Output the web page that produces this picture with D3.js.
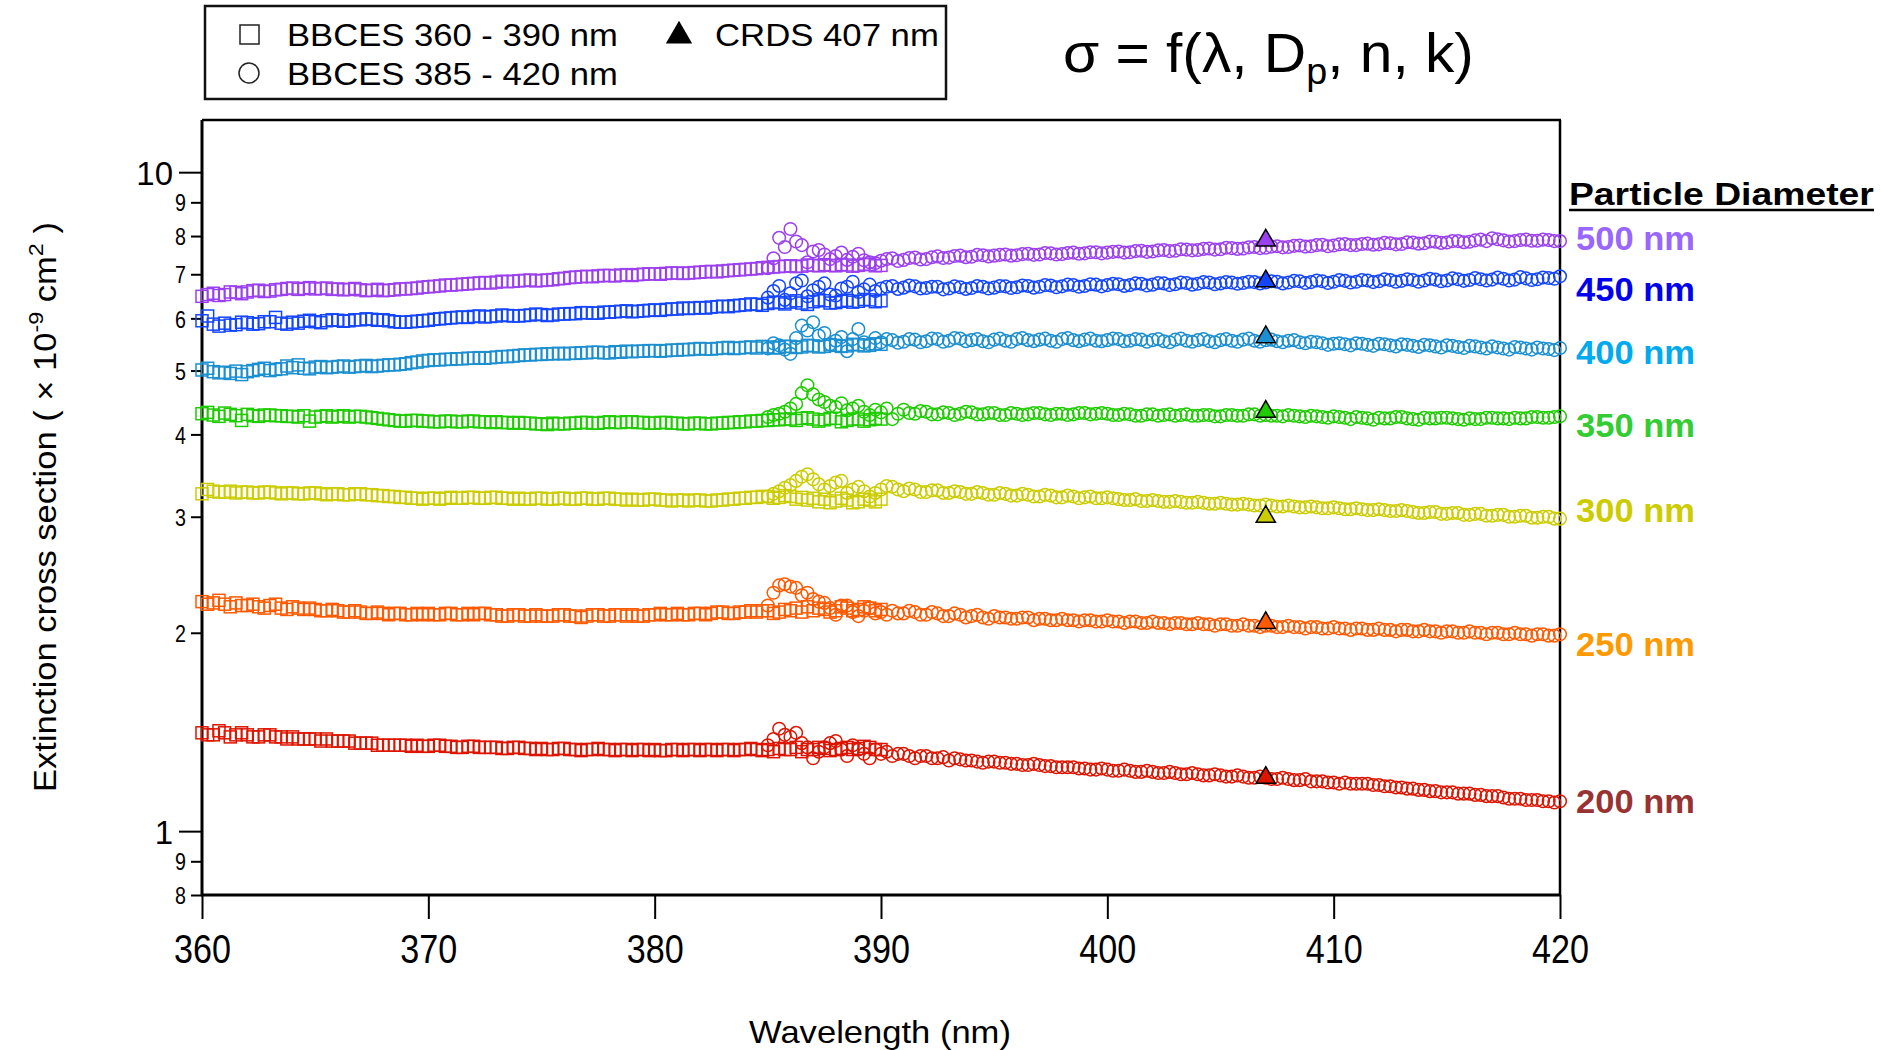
<!DOCTYPE html>
<html>
<head>
<meta charset="utf-8">
<script src="https://cdn.jsdelivr.net/npm/d3@7"></script>
<style>
  body { margin: 0; background: #fff; }
  svg text { font-family: Arial, "Liberation Sans", Helvetica, sans-serif; }
</style>
</head>
<body>
<svg id="chart" width="1881" height="1050"></svg>
<script>
// ---- data (extinction cross section, x 1e-9 cm^2) ----
const sizes = ["500 nm", "450 nm", "400 nm", "350 nm", "300 nm", "250 nm", "200 nm"];
const markColors = ["#9b3ff0", "#1446ff", "#1b8fd0", "#1ecc00", "#cccc00", "#ff5a00", "#dd1500"];
const labelColors = ["#9966ff", "#0000ee", "#00aaee", "#33cc33", "#cccc00", "#ff9900", "#993333"];

// wavelength grids of the two BBCES channels (nm), 0.25 nm steps
const sqWl = d3.range(360, 390.001, 0.25);
const ciWl = d3.range(385, 420.001, 0.25);
const crdsWl = 407;
const crds407 = [7.88, 6.83, 5.62, 4.33, 3.00, 2.07, 1.205];

// each row = 2 nm
const sq500 = [6.48,6.52,6.55,6.50,6.52,6.58,6.57,6.54,
  6.58,6.61,6.62,6.59,6.60,6.63,6.64,6.66,
  6.67,6.64,6.66,6.68,6.65,6.66,6.67,6.64,
  6.65,6.63,6.64,6.66,6.63,6.61,6.62,6.64,
  6.61,6.62,6.63,6.65,6.65,6.66,6.67,6.69,
  6.70,6.71,6.72,6.74,6.74,6.75,6.76,6.77,
  6.78,6.79,6.80,6.79,6.81,6.83,6.82,6.83,
  6.84,6.85,6.86,6.84,6.85,6.86,6.87,6.89,
  6.90,6.92,6.93,6.94,6.95,6.94,6.96,6.97,
  6.97,6.96,6.98,6.99,6.97,6.99,7.00,7.01,
  7.01,7.00,7.02,7.03,7.03,7.02,7.03,7.04,
  7.05,7.06,7.07,7.06,7.08,7.09,7.10,7.11,
  7.12,7.13,7.14,7.16,7.17,7.18,7.19,7.20,
  7.21,7.19,7.20,7.23,7.22,7.21,7.24,7.22,
  7.21,7.24,7.23,7.20,7.22,7.25,7.24,7.21,
  7.22];
const ci500 = [7.15,7.40,7.95,7.70,8.20,7.85,7.75,7.30,
  7.58,7.62,7.50,7.38,7.46,7.55,7.36,7.44,
  7.52,7.35,7.30,7.28,7.34,7.38,7.40,7.33,
  7.36,7.41,7.42,7.37,7.38,7.43,7.45,7.41,
  7.42,7.46,7.47,7.43,7.44,7.49,7.48,7.45,
  7.47,7.49,7.50,7.47,7.48,7.51,7.52,7.49,
  7.50,7.54,7.53,7.50,7.51,7.54,7.55,7.52,
  7.53,7.56,7.56,7.53,7.55,7.57,7.58,7.55,
  7.56,7.59,7.60,7.57,7.58,7.61,7.62,7.59,
  7.60,7.64,7.63,7.61,7.62,7.65,7.66,7.63,
  7.64,7.68,7.67,7.65,7.66,7.69,7.70,7.67,
  7.68,7.71,7.72,7.69,7.70,7.73,7.74,7.71,
  7.72,7.75,7.76,7.72,7.74,7.77,7.78,7.75,
  7.75,7.78,7.79,7.76,7.77,7.81,7.80,7.77,
  7.78,7.83,7.82,7.79,7.80,7.85,7.84,7.81,
  7.82,7.86,7.86,7.83,7.84,7.88,7.90,7.86,
  7.94,7.91,7.88,7.85,7.86,7.89,7.90,7.87,
  7.87,7.90,7.89,7.86,7.86];
const sq450 = [5.95,6.05,5.88,5.84,5.90,5.86,5.87,5.92,
  5.91,5.88,5.89,5.93,5.93,6.02,5.90,5.88,
  5.92,5.90,5.94,5.96,5.93,5.91,5.95,5.97,
  5.96,5.94,5.95,5.97,5.97,5.99,5.98,5.96,
  5.97,5.95,5.93,5.92,5.92,5.93,5.94,5.95,
  5.96,5.98,5.99,6.00,6.01,6.02,6.03,6.02,
  6.04,6.05,6.03,6.04,6.05,6.07,6.06,6.05,
  6.05,6.06,6.07,6.09,6.08,6.06,6.07,6.09,
  6.09,6.10,6.10,6.12,6.12,6.11,6.11,6.13,
  6.13,6.14,6.15,6.16,6.14,6.15,6.16,6.17,
  6.18,6.17,6.19,6.20,6.20,6.22,6.21,6.22,
  6.23,6.22,6.24,6.25,6.26,6.25,6.27,6.28,
  6.29,6.31,6.30,6.28,6.32,6.35,6.34,6.31,
  6.35,6.38,6.33,6.30,6.36,6.40,6.38,6.33,
  6.34,6.37,6.39,6.35,6.37,6.41,6.40,6.36,
  6.38];
const ci450 = [6.45,6.60,6.72,6.40,6.55,6.78,6.85,6.48,
  6.62,6.70,6.78,6.52,6.50,6.66,6.70,6.82,
  6.58,6.64,6.75,6.60,6.66,6.70,6.72,6.65,
  6.68,6.73,6.71,6.66,6.67,6.70,6.70,6.64,
  6.66,6.71,6.69,6.65,6.67,6.72,6.70,6.66,
  6.68,6.72,6.71,6.67,6.69,6.73,6.72,6.68,
  6.70,6.74,6.73,6.69,6.71,6.75,6.74,6.70,
  6.72,6.76,6.75,6.71,6.74,6.77,6.76,6.72,
  6.74,6.78,6.77,6.73,6.75,6.79,6.78,6.74,
  6.76,6.80,6.79,6.75,6.77,6.81,6.80,6.76,
  6.78,6.81,6.80,6.77,6.79,6.82,6.81,6.78,
  6.80,6.83,6.82,6.78,6.80,6.84,6.83,6.79,
  6.81,6.85,6.83,6.79,6.82,6.86,6.84,6.80,
  6.82,6.86,6.85,6.81,6.83,6.88,6.86,6.82,
  6.84,6.88,6.86,6.82,6.85,6.89,6.87,6.83,
  6.85,6.90,6.88,6.84,6.86,6.91,6.88,6.85,
  6.87,6.92,6.89,6.85,6.87,6.93,6.90,6.86,
  6.88,6.92,6.91,6.89,6.95];
const sq400 = [5.01,5.04,4.98,4.96,4.97,4.95,4.99,4.93,
  4.98,5.00,5.02,5.04,5.00,5.02,5.03,5.08,
  5.05,5.10,5.04,5.03,5.06,5.07,5.05,5.06,
  5.07,5.08,5.06,5.07,5.08,5.09,5.07,5.08,
  5.09,5.10,5.10,5.11,5.12,5.14,5.15,5.17,
  5.18,5.19,5.19,5.20,5.20,5.21,5.21,5.22,
  5.22,5.23,5.22,5.23,5.24,5.25,5.25,5.26,
  5.27,5.28,5.28,5.29,5.29,5.30,5.30,5.31,
  5.30,5.31,5.31,5.32,5.32,5.33,5.33,5.32,
  5.32,5.34,5.33,5.35,5.34,5.35,5.35,5.36,
  5.36,5.35,5.36,5.37,5.37,5.38,5.38,5.39,
  5.40,5.39,5.39,5.40,5.41,5.42,5.40,5.41,
  5.42,5.43,5.41,5.44,5.43,5.41,5.42,5.44,
  5.44,5.42,5.43,5.46,5.45,5.43,5.44,5.47,
  5.46,5.44,5.45,5.48,5.47,5.45,5.46,5.49,
  5.48];
const ci400 = [5.40,5.50,5.46,5.38,5.30,5.60,5.85,5.75,
  5.92,5.65,5.70,5.48,5.55,5.62,5.35,5.58,
  5.78,5.52,5.48,5.60,5.52,5.58,5.56,5.51,
  5.53,5.58,5.57,5.52,5.54,5.59,5.58,5.53,
  5.55,5.60,5.59,5.54,5.56,5.58,5.54,5.52,
  5.57,5.59,5.55,5.53,5.58,5.60,5.56,5.54,
  5.57,5.59,5.55,5.53,5.58,5.60,5.56,5.54,
  5.57,5.59,5.55,5.54,5.56,5.59,5.58,5.54,
  5.55,5.58,5.57,5.53,5.56,5.58,5.54,5.52,
  5.57,5.59,5.55,5.53,5.56,5.58,5.54,5.52,
  5.56,5.58,5.55,5.53,5.57,5.59,5.55,5.53,
  5.56,5.57,5.54,5.52,5.55,5.56,5.52,5.50,
  5.53,5.52,5.50,5.47,5.49,5.50,5.48,5.46,
  5.50,5.49,5.47,5.45,5.49,5.48,5.46,5.44,
  5.48,5.47,5.45,5.43,5.47,5.46,5.44,5.42,
  5.46,5.45,5.43,5.41,5.45,5.44,5.42,5.40,
  5.44,5.42,5.40,5.38,5.43,5.42,5.40,5.38,
  5.42,5.40,5.39,5.37,5.41];
const sq350 = [4.30,4.32,4.28,4.26,4.31,4.29,4.27,4.20,
  4.29,4.27,4.26,4.28,4.28,4.27,4.27,4.26,
  4.26,4.25,4.27,4.19,4.25,4.26,4.27,4.25,
  4.26,4.27,4.25,4.26,4.26,4.25,4.24,4.23,
  4.22,4.21,4.20,4.19,4.19,4.20,4.20,4.19,
  4.19,4.18,4.18,4.19,4.19,4.18,4.18,4.19,
  4.19,4.18,4.18,4.17,4.18,4.17,4.17,4.16,
  4.17,4.16,4.16,4.15,4.15,4.14,4.16,4.15,
  4.15,4.16,4.16,4.17,4.17,4.16,4.16,4.17,
  4.18,4.17,4.17,4.18,4.18,4.17,4.17,4.16,
  4.16,4.17,4.17,4.16,4.16,4.15,4.15,4.16,
  4.16,4.15,4.15,4.16,4.16,4.17,4.17,4.18,
  4.18,4.19,4.19,4.20,4.20,4.21,4.21,4.22,
  4.22,4.20,4.23,4.24,4.22,4.19,4.21,4.23,
  4.23,4.18,4.20,4.22,4.22,4.19,4.21,4.23,
  4.22];
const ci350 = [4.25,4.28,4.30,4.33,4.38,4.45,4.62,4.75,
  4.60,4.52,4.48,4.42,4.40,4.46,4.35,4.38,
  4.42,4.33,4.28,4.36,4.32,4.38,4.22,4.30,
  4.36,4.31,4.30,4.34,4.33,4.29,4.29,4.32,
  4.31,4.28,4.30,4.33,4.32,4.29,4.29,4.31,
  4.31,4.28,4.28,4.31,4.30,4.28,4.29,4.31,
  4.31,4.29,4.28,4.30,4.30,4.28,4.29,4.31,
  4.31,4.29,4.30,4.31,4.30,4.28,4.28,4.30,
  4.29,4.27,4.27,4.29,4.29,4.27,4.28,4.29,
  4.27,4.28,4.29,4.27,4.27,4.28,4.28,4.26,
  4.26,4.28,4.28,4.27,4.27,4.29,4.29,4.27,
  4.28,4.27,4.27,4.26,4.28,4.27,4.26,4.25,
  4.27,4.26,4.25,4.24,4.26,4.25,4.24,4.22,
  4.25,4.24,4.23,4.21,4.24,4.23,4.23,4.25,
  4.25,4.23,4.22,4.21,4.24,4.23,4.23,4.24,
  4.24,4.23,4.22,4.21,4.23,4.22,4.22,4.24,
  4.24,4.23,4.23,4.22,4.24,4.23,4.23,4.25,
  4.25,4.24,4.24,4.25,4.26];
const sq300 = [3.25,3.30,3.28,3.27,3.27,3.28,3.26,3.27,
  3.27,3.26,3.26,3.27,3.27,3.26,3.25,3.26,
  3.26,3.25,3.25,3.26,3.26,3.25,3.24,3.25,
  3.25,3.24,3.24,3.25,3.25,3.24,3.24,3.23,
  3.23,3.22,3.22,3.21,3.21,3.20,3.20,3.19,
  3.20,3.20,3.19,3.20,3.21,3.20,3.20,3.21,
  3.21,3.20,3.20,3.21,3.21,3.20,3.20,3.19,
  3.20,3.19,3.19,3.20,3.20,3.19,3.19,3.20,
  3.20,3.19,3.19,3.20,3.20,3.19,3.19,3.20,
  3.20,3.19,3.19,3.18,3.19,3.18,3.18,3.19,
  3.19,3.18,3.18,3.17,3.18,3.18,3.17,3.18,
  3.18,3.17,3.17,3.18,3.18,3.19,3.19,3.20,
  3.20,3.21,3.21,3.22,3.22,3.20,3.21,3.23,
  3.22,3.19,3.21,3.18,3.20,3.16,3.19,3.15,
  3.17,3.20,3.18,3.15,3.16,3.19,3.18,3.16,
  3.19];
const ci300 = [3.22,3.25,3.28,3.32,3.35,3.40,3.45,3.48,
  3.42,3.36,3.30,3.34,3.38,3.40,3.26,3.30,
  3.33,3.28,3.22,3.26,3.30,3.34,3.33,3.30,
  3.28,3.31,3.30,3.27,3.27,3.29,3.29,3.26,
  3.26,3.28,3.27,3.25,3.25,3.27,3.26,3.24,
  3.24,3.26,3.25,3.23,3.23,3.25,3.24,3.22,
  3.22,3.24,3.23,3.21,3.21,3.23,3.22,3.20,
  3.21,3.22,3.20,3.20,3.21,3.20,3.19,3.18,
  3.18,3.19,3.17,3.17,3.18,3.17,3.16,3.16,
  3.17,3.16,3.15,3.15,3.16,3.15,3.14,3.14,
  3.15,3.14,3.13,3.13,3.14,3.13,3.12,3.12,
  3.13,3.12,3.11,3.11,3.12,3.11,3.10,3.10,
  3.11,3.10,3.09,3.09,3.10,3.09,3.08,3.08,
  3.09,3.08,3.07,3.07,3.08,3.07,3.06,3.06,
  3.07,3.06,3.05,3.04,3.04,3.05,3.05,3.03,
  3.03,3.04,3.04,3.02,3.02,3.03,3.03,3.01,
  3.01,3.02,3.02,3.00,3.00,3.01,3.01,2.99,
  2.99,3.00,3.00,2.98,2.98];
const sq250 = [2.23,2.21,2.22,2.24,2.21,2.19,2.22,2.20,
  2.20,2.21,2.19,2.18,2.20,2.21,2.18,2.17,
  2.19,2.18,2.17,2.18,2.17,2.16,2.16,2.17,
  2.16,2.15,2.15,2.16,2.15,2.14,2.14,2.15,
  2.14,2.13,2.14,2.14,2.13,2.13,2.14,2.13,
  2.14,2.13,2.13,2.14,2.14,2.13,2.13,2.14,
  2.13,2.14,2.14,2.13,2.13,2.12,2.12,2.13,
  2.13,2.12,2.12,2.13,2.12,2.12,2.12,2.13,
  2.13,2.12,2.12,2.11,2.12,2.13,2.13,2.12,
  2.12,2.13,2.13,2.12,2.13,2.12,2.12,2.13,
  2.13,2.14,2.13,2.13,2.14,2.13,2.13,2.14,
  2.14,2.13,2.14,2.15,2.15,2.14,2.14,2.15,
  2.15,2.16,2.15,2.16,2.16,2.14,2.15,2.17,
  2.16,2.18,2.15,2.19,2.16,2.18,2.17,2.15,
  2.16,2.19,2.18,2.16,2.17,2.19,2.18,2.16,
  2.17];
const ci250 = [2.20,2.30,2.36,2.37,2.35,2.34,2.28,2.30,
  2.25,2.23,2.22,2.18,2.13,2.20,2.20,2.15,
  2.12,2.16,2.18,2.14,2.15,2.13,2.16,2.14,
  2.14,2.16,2.15,2.13,2.13,2.15,2.14,2.12,
  2.12,2.14,2.13,2.11,2.12,2.13,2.11,2.10,
  2.12,2.11,2.11,2.10,2.10,2.11,2.11,2.09,
  2.10,2.10,2.09,2.09,2.10,2.09,2.09,2.08,
  2.09,2.09,2.08,2.08,2.09,2.08,2.08,2.07,
  2.08,2.08,2.07,2.07,2.08,2.07,2.07,2.06,
  2.07,2.07,2.06,2.06,2.07,2.06,2.06,2.05,
  2.06,2.06,2.05,2.05,2.06,2.05,2.05,2.04,
  2.05,2.05,2.04,2.04,2.05,2.04,2.04,2.03,
  2.04,2.04,2.03,2.03,2.04,2.03,2.03,2.02,
  2.03,2.03,2.02,2.02,2.03,2.02,2.02,2.01,
  2.02,2.02,2.01,2.01,2.02,2.01,2.01,2.00,
  2.01,2.01,2.00,2.00,2.01,2.00,2.00,1.99,
  2.00,2.00,1.99,1.99,2.00,1.99,1.99,1.98,
  1.99,1.99,1.98,1.98,1.99];
const sq200 = [1.41,1.40,1.40,1.42,1.41,1.39,1.40,1.41,
  1.40,1.39,1.39,1.40,1.40,1.39,1.39,1.38,
  1.39,1.38,1.38,1.38,1.38,1.37,1.38,1.37,
  1.37,1.37,1.37,1.36,1.36,1.36,1.36,1.35,
  1.35,1.35,1.35,1.35,1.35,1.345,1.35,1.345,
  1.345,1.35,1.35,1.345,1.345,1.34,1.34,1.345,
  1.345,1.34,1.34,1.34,1.34,1.335,1.335,1.34,
  1.34,1.335,1.335,1.33,1.335,1.33,1.33,1.335,
  1.335,1.33,1.33,1.325,1.33,1.33,1.335,1.33,
  1.33,1.325,1.33,1.33,1.325,1.33,1.33,1.325,
  1.33,1.325,1.325,1.33,1.33,1.325,1.33,1.33,
  1.325,1.33,1.33,1.325,1.33,1.33,1.325,1.33,
  1.33,1.335,1.33,1.325,1.33,1.32,1.335,1.33,
  1.33,1.34,1.32,1.33,1.33,1.34,1.335,1.325,
  1.33,1.335,1.34,1.33,1.335,1.345,1.34,1.33,
  1.33];
const ci200 = [1.35,1.38,1.43,1.40,1.39,1.41,1.36,1.34,
  1.29,1.32,1.34,1.36,1.37,1.33,1.30,1.35,
  1.33,1.31,1.29,1.33,1.31,1.32,1.30,1.31,
  1.31,1.30,1.29,1.30,1.30,1.29,1.29,1.295,
  1.28,1.29,1.285,1.28,1.28,1.275,1.27,1.275,
  1.275,1.27,1.27,1.265,1.265,1.26,1.26,1.265,
  1.26,1.255,1.255,1.25,1.25,1.25,1.25,1.245,
  1.245,1.24,1.24,1.245,1.24,1.235,1.235,1.24,
  1.235,1.23,1.23,1.235,1.23,1.225,1.225,1.23,
  1.225,1.22,1.22,1.225,1.22,1.215,1.215,1.22,
  1.215,1.21,1.21,1.215,1.21,1.205,1.205,1.21,
  1.205,1.20,1.20,1.205,1.20,1.195,1.195,1.20,
  1.19,1.19,1.19,1.185,1.185,1.18,1.185,1.18,
  1.18,1.18,1.18,1.175,1.175,1.17,1.17,1.165,
  1.165,1.16,1.16,1.155,1.155,1.15,1.15,1.145,
  1.145,1.145,1.14,1.14,1.14,1.135,1.135,1.13,
  1.13,1.13,1.125,1.12,1.12,1.12,1.115,1.115,
  1.115,1.11,1.11,1.105,1.11];

const squareSeries = [sq500, sq450, sq400, sq350, sq300, sq250, sq200];
const circleSeries = [ci500, ci450, ci400, ci350, ci300, ci250, ci200];

const xTicks = [360, 370, 380, 390, 400, 410, 420];
const yMajor = [1, 10];
const yMinor = [0.8, 0.9, 2, 3, 4, 5, 6, 7, 8, 9];

// ---- layout ----
const plot = { left: 202, right: 1560, top: 120, bottom: 895 };
const labelBaseline = [250, 301, 364, 437, 522, 656, 813];

const svg = d3.select("#chart");

const x = d3.scaleLinear().domain([360, 420]).range([plot.left, plot.right]);
const y = d3.scaleLog().domain([0.8, 12]).range([plot.bottom, plot.top]);

// stretch or squeeze text horizontally to a measured width
function fitWidth(t, w, ax) {
  const bw = t.node().getBBox().width;
  const s = w / bw;
  t.attr("transform", `translate(${ax},0) scale(${s},1) translate(${-ax},0)`);
}

// ---- axes ----
const xAxis = svg.append("g")
  .attr("transform", `translate(0,${plot.bottom})`)
  .call(d3.axisBottom(x).tickValues(xTicks).tickSize(24).tickFormat(d3.format("d")));
xAxis.select(".domain").remove();
xAxis.selectAll("line").attr("stroke", "#000").attr("stroke-width", 2);
xAxis.selectAll("text")
  .attr("y", 68).attr("dy", 0)
  .attr("font-size", 40).attr("fill", "#000")
  .each(function() { fitWidth(d3.select(this), 57, 0); });

const yAxisMaj = svg.append("g")
  .attr("transform", `translate(${plot.left},0)`)
  .call(d3.axisLeft(y).tickValues(yMajor).tickSize(23).tickPadding(6).tickFormat(d3.format("d")));
yAxisMaj.select(".domain").remove();
yAxisMaj.selectAll("line").attr("stroke", "#000").attr("stroke-width", 2);
yAxisMaj.selectAll("text").attr("font-size", 33).attr("fill", "#000").attr("dy", "0.36em");

const yAxisMin = svg.append("g")
  .attr("transform", `translate(${plot.left},0)`)
  .call(d3.axisLeft(y).tickValues(yMinor).tickSize(11).tickPadding(5)
    .tickFormat(d => d < 1 ? Math.round(d * 10) : d));
yAxisMin.select(".domain").remove();
yAxisMin.selectAll("line").attr("stroke", "#000").attr("stroke-width", 2);
yAxisMin.selectAll("text").attr("font-size", 24).attr("fill", "#000").attr("dy", "0.36em")
  .each(function() { const t = d3.select(this); fitWidth(t, t.node().getBBox().width * 0.82, -16); });

// frame
svg.append("line").attr("x1", plot.left).attr("x2", plot.left)
  .attr("y1", plot.top).attr("y2", plot.bottom + 1).attr("stroke", "#000").attr("stroke-width", 3);
svg.append("line").attr("x1", plot.left - 1).attr("x2", plot.right + 1)
  .attr("y1", plot.bottom).attr("y2", plot.bottom).attr("stroke", "#000").attr("stroke-width", 3);
svg.append("line").attr("x1", plot.left).attr("x2", plot.right + 1)
  .attr("y1", plot.top).attr("y2", plot.top).attr("stroke", "#000").attr("stroke-width", 2.5);
svg.append("line").attr("x1", plot.right).attr("x2", plot.right)
  .attr("y1", plot.top).attr("y2", plot.bottom).attr("stroke", "#000").attr("stroke-width", 2.5);

// ---- markers ----
const marks = svg.append("g");
const order = d3.range(sizes.length).reverse();
order.forEach(i => {
  marks.append("g").selectAll("rect")
    .data(squareSeries[i].map((v, j) => [sqWl[j], v]))
    .join("rect")
    .attr("x", d => x(d[0]) - 6).attr("y", d => y(d[1]) - 6)
    .attr("width", 12).attr("height", 12)
    .attr("fill", "none").attr("stroke", markColors[i]).attr("stroke-width", 1.5);
});
order.forEach(i => {
  marks.append("g").selectAll("circle")
    .data(circleSeries[i].map((v, j) => [ciWl[j], v]))
    .join("circle")
    .attr("cx", d => x(d[0])).attr("cy", d => y(d[1])).attr("r", 6.3)
    .attr("fill", "none").attr("stroke", markColors[i]).attr("stroke-width", 1.5);
});
const tri = d3.symbol().type(d3.symbolTriangle).size(160);
marks.append("g").selectAll("path")
  .data(crds407)
  .join("path")
  .attr("d", tri)
  .attr("transform", d => `translate(${x(crdsWl)},${y(d)})`)
  .attr("fill", (d, i) => markColors[i])
  .attr("stroke", "#000").attr("stroke-width", 1.5);

// ---- size labels ----
svg.append("g").selectAll("text")
  .data(sizes)
  .join("text")
  .attr("x", 1576).attr("y", (d, i) => labelBaseline[i])
  .attr("font-size", 34).attr("font-weight", "bold")
  .attr("fill", (d, i) => labelColors[i])
  .text(d => d)
  .each(function() { fitWidth(d3.select(this), 119, 1576); });

const pd = svg.append("text").attr("x", 1569).attr("y", 205)
  .attr("font-size", 32).attr("font-weight", "bold").attr("fill", "#000")
  .text("Particle Diameter");
fitWidth(pd, 305, 1569);
svg.append("line").attr("x1", 1569).attr("x2", 1874).attr("y1", 210).attr("y2", 210)
  .attr("stroke", "#000").attr("stroke-width", 2.5);

// ---- title ----
const title = svg.append("text").attr("x", 1063).attr("y", 72).attr("font-size", 56).attr("fill", "#000");
title.append("tspan").text("\u03c3 = f(\u03bb, D");
title.append("tspan").attr("font-size", 36).attr("dy", 12).text("p");
title.append("tspan").attr("dy", -12).text(", n, k)");
fitWidth(title, 411, 1063);

// ---- axis titles ----
const xt = svg.append("text").attr("x", 880).attr("y", 1043).attr("text-anchor", "middle")
  .attr("font-size", 32).attr("fill", "#000").text("Wavelength (nm)");
fitWidth(xt, 262, 880);

const yg = svg.append("g").attr("transform", "translate(56,507) rotate(-90)");
const yt = yg.append("text").attr("text-anchor", "middle").attr("font-size", 31).attr("fill", "#000");
yt.append("tspan").text("Extinction cross section ( \u00d7 10");
yt.append("tspan").attr("dy", -13).attr("font-size", 21).text("-9");
yt.append("tspan").attr("dy", 13).text(" cm");
yt.append("tspan").attr("dy", -13).attr("font-size", 21).text("2");
yt.append("tspan").attr("dy", 13).text(" )");
fitWidth(yt, 570, 0);

// ---- legend ----
const lg = svg.append("g");
lg.append("rect").attr("x", 205).attr("y", 6).attr("width", 741).attr("height", 93)
  .attr("fill", "#fff").attr("stroke", "#111").attr("stroke-width", 2.5);
lg.append("rect").attr("x", 240).attr("y", 25).attr("width", 19).attr("height", 19)
  .attr("fill", "none").attr("stroke", "#222").attr("stroke-width", 1.5);
lg.append("circle").attr("cx", 249).attr("cy", 73).attr("r", 10)
  .attr("fill", "none").attr("stroke", "#222").attr("stroke-width", 1.5);
lg.append("path").attr("d", d3.symbol().type(d3.symbolTriangle).size(300))
  .attr("transform", "translate(679,36)").attr("fill", "#000");
const l1 = lg.append("text").attr("x", 287).attr("y", 46).attr("font-size", 31).text("BBCES 360 - 390 nm");
fitWidth(l1, 331, 287);
const l2 = lg.append("text").attr("x", 287).attr("y", 85).attr("font-size", 31).text("BBCES 385 - 420 nm");
fitWidth(l2, 331, 287);
const l3 = lg.append("text").attr("x", 715).attr("y", 46).attr("font-size", 31).text("CRDS 407 nm");
fitWidth(l3, 224, 715);
</script>
</body>
</html>
